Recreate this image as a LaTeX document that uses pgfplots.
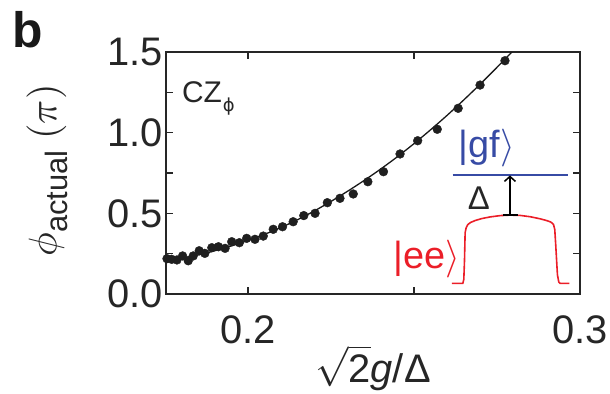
\documentclass[border=0pt]{standalone}
\usepackage{fontspec}
\setmainfont{Liberation Sans}
\newfontfamily\dejavu{DejaVu Sans}
\usepackage{amsmath}
\DeclareFontFamily{OML}{cmm}{\skewchar\font127 }
\DeclareFontShape{OML}{cmm}{m}{it}{<->cmmi10}{}
\DeclareFontFamily{OMS}{cmsy}{\skewchar\font48 }
\DeclareFontShape{OMS}{cmsy}{m}{n}{<->cmsy10}{}
\DeclareFontFamily{OMX}{cmex}{}
\DeclareFontShape{OMX}{cmex}{m}{n}{<->cmex10}{}
\DeclareFontFamily{OT1}{cmr}{\hyphenchar\font45 }
\DeclareFontShape{OT1}{cmr}{m}{n}{<->cmr10}{}
\usepackage{pgfplots}
\pgfplotsset{compat=1.18}
\usetikzlibrary{arrows.meta}
\definecolor{gfblue}{RGB}{55,75,165}
\definecolor{eered}{RGB}{235,30,40}
\begin{document}
\begin{tikzpicture}
\useasboundingbox (-166bp,-100bp) rectangle (444bp,294bp);
\begin{axis}[
  scale only axis, width=414bp, height=242bp,
  clip mode=individual,
  xmin=0.1753, xmax=0.3, ymin=0, ymax=1.5,
  xtick={0.2,0.25,0.3}, xticklabels={0.2,,0.3},
  ytick={0,0.25,0.5,0.75,1,1.25,1.5}, yticklabels={0.0,,0.5,,1.0,,1.5},
  tick align=inside, major tick length=7bp,
  axis line style={line width=1.7bp, black!85},
  every tick/.style={line width=1.4bp, black!85},
  tick label style={font=\fontsize{40}{44}\selectfont, text=black!85},
  xticklabel style={inner sep=0pt, anchor=north, yshift=-21bp},
  xlabel={\(\sqrt{\text{2}}\)\textit{g}/Δ},
  xlabel style={font=\fontsize{40}{44}\selectfont, at={(axis description cs:0.5,-0.306)}, anchor=center, text=black!85},
  ylabel={\(\phi\)\raisebox{-0.28em}{\fontsize{31}{34}\selectfont actual}\hspace{11bp}\((\pi)\)},
  ylabel style={font=\fontsize{40}{44}\selectfont, at={(axis description cs:-0.287,0.51)}, anchor=center, text=black!85},
]
% fit line
\addplot[black!90, line width=1.3bp, smooth] coordinates {
(0.175,0.208) (0.180,0.222) (0.185,0.242) (0.190,0.268) (0.195,0.298)
(0.200,0.332) (0.205,0.370) (0.210,0.413) (0.215,0.461) (0.220,0.515)
(0.225,0.574) (0.230,0.637) (0.235,0.704) (0.240,0.775) (0.245,0.851)
(0.250,0.932) (0.255,1.018) (0.260,1.108) (0.265,1.203) (0.270,1.302)
(0.275,1.405) (0.2795,1.500) (0.281,1.53)};
% data
\addplot[only marks, mark=*, mark size=4.4bp, black!88] coordinates {
(0.1756,0.219) (0.1770,0.215) (0.1786,0.211) (0.1803,0.236) (0.1820,0.206)
(0.1835,0.236) (0.1853,0.268) (0.1870,0.252) (0.1891,0.287) (0.1911,0.293)
(0.1931,0.283) (0.1951,0.324) (0.1974,0.318) (0.1996,0.345) (0.2021,0.339)
(0.2046,0.359) (0.2076,0.401) (0.2104,0.417) (0.2136,0.448) (0.2168,0.486)
(0.2202,0.500) (0.2239,0.566) (0.2277,0.593) (0.2317,0.620) (0.2361,0.696)
(0.2408,0.758) (0.2458,0.868) (0.2511,0.950) (0.2570,1.021) (0.2633,1.151)
(0.2699,1.295) (0.2774,1.446)};
% inset: |gf> level
\addplot[gfblue, line width=2bp] coordinates {(0.2616,0.74) (0.2965,0.74)};
% |ee> pulse
\addplot[eered, line width=1.6bp] coordinates {
(0.2614,0.066) (0.2647,0.066) (0.2650,0.09) (0.2652,0.2) (0.2654,0.38)
(0.2657,0.41) (0.2662,0.430) (0.2670,0.443) (0.2685,0.456) (0.2705,0.468)
(0.2730,0.478) (0.2760,0.486) (0.2790,0.489) (0.2820,0.487) (0.2850,0.479)
(0.2880,0.466) (0.2900,0.455) (0.2912,0.446) (0.2920,0.432) (0.2924,0.40)
(0.2927,0.3) (0.2932,0.12) (0.2936,0.075) (0.2940,0.066) (0.2968,0.066)};
% arrow
\addplot[black, line width=1.5bp] coordinates {(0.2767,0.489) (0.2813,0.489)};
\addplot[black, line width=1.5bp, -{Straight Barb[length=5bp,width=11bp]}] coordinates {(0.2789,0.489) (0.2789,0.735)};
% texts
\node[anchor=base, font=\fontsize{38}{42}\selectfont, text=gfblue] at (axis cs:0.2719,0.843) {|gf\(\rangle\)};
\node[anchor=base east, font=\fontsize{38}{42}\selectfont, text=eered, inner sep=0pt] at (axis cs:0.2640,0.161) {|ee\(\rangle\)};
\node[anchor=base, font=\fontsize{33}{36}\selectfont, text=black!85] at (axis cs:0.2695,0.521) {Δ};
\node[anchor=base west, inner sep=0pt, font=\fontsize{30}{33}\selectfont, text=black!85] at (axis cs:0.1801,1.19) {CZ\kern1bp\raisebox{-9bp}{\dejavu\fontsize{18}{20}\selectfont ϕ}};
\node[anchor=base west, inner sep=0pt, font=\bfseries\fontsize{50}{55}\selectfont, text=black!90] at (rel axis cs:-0.372,1.017) {b};
\end{axis}
\end{tikzpicture}
\end{document}
